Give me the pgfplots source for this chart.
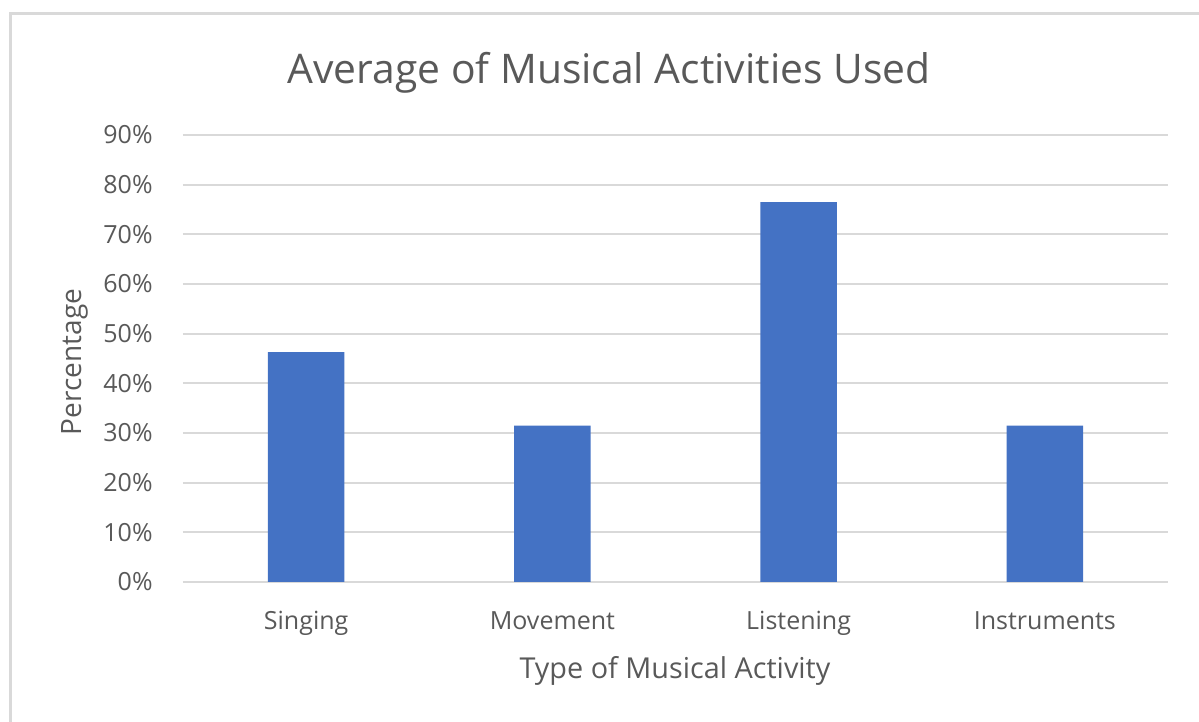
\documentclass[border=0pt]{standalone}
\usepackage{pgfplots}
\pgfplotsset{compat=1.18}
\usepackage{fontspec}
\setmainfont{Open Sans}
\definecolor{barblue}{HTML}{4472C4}
\definecolor{gridgray}{HTML}{D9D9D9}
\definecolor{textgray}{HTML}{595959}
\begin{document}
\begin{tikzpicture}
\useasboundingbox (0,0) rectangle (599.5pt,361pt);
% chart area frame (left and top edges)
\draw[gridgray, line width=1.5pt] (5.35pt,-2pt) -- (5.35pt,354.25pt) -- (601pt,354.25pt);
\begin{axis}[
  at={(91.5pt,70pt)}, anchor=south west,
  scale only axis,
  width=492.5pt, height=223.5pt,
  xmin=-0.5, xmax=3.5,
  ymin=0, ymax=0.9,
  ytick={0,0.1,...,0.9},
  yticklabel={\pgfmathparse{\tick*100}\pgfmathprintnumber[fixed,precision=0]{\pgfmathresult}\%},
  /pgf/number format/assume math mode=true,
  xtick=data,
  xticklabels={Singing,Movement,Listening,Instruments},
  axis line style={draw=none},
  axis x line*=bottom,
  x axis line style={draw=gridgray, line width=1pt},
  major tick length=0pt,
  ymajorgrids,
  grid style={gridgray, line width=1pt},
  tick label style={font=\fontsize{12.5}{14}\selectfont, text=textgray},
  yticklabel style={inner sep=0pt, anchor=east, xshift=-15pt},
  xticklabel style={inner sep=0pt, anchor=north, yshift=-14.5pt},
  clip=false,
]
\addplot[ybar, bar width=38.3pt, fill=barblue, draw=none]
  coordinates {(0,0.463) (1,0.315) (2,0.765) (3,0.315)};
\end{axis}
\node[text=textgray, font=\fontsize{20.4}{24}\selectfont] at (304.5pt,324.5pt) {Average of Musical Activities Used};
\node[text=textgray, font=\fontsize{14}{16}\selectfont, rotate=90] at (37.5pt,180pt) {Percentage};
\node[text=textgray, font=\fontsize{14.4}{16}\selectfont] at (337.5pt,25.5pt) {Type of Musical Activity};
\end{tikzpicture}
\end{document}
